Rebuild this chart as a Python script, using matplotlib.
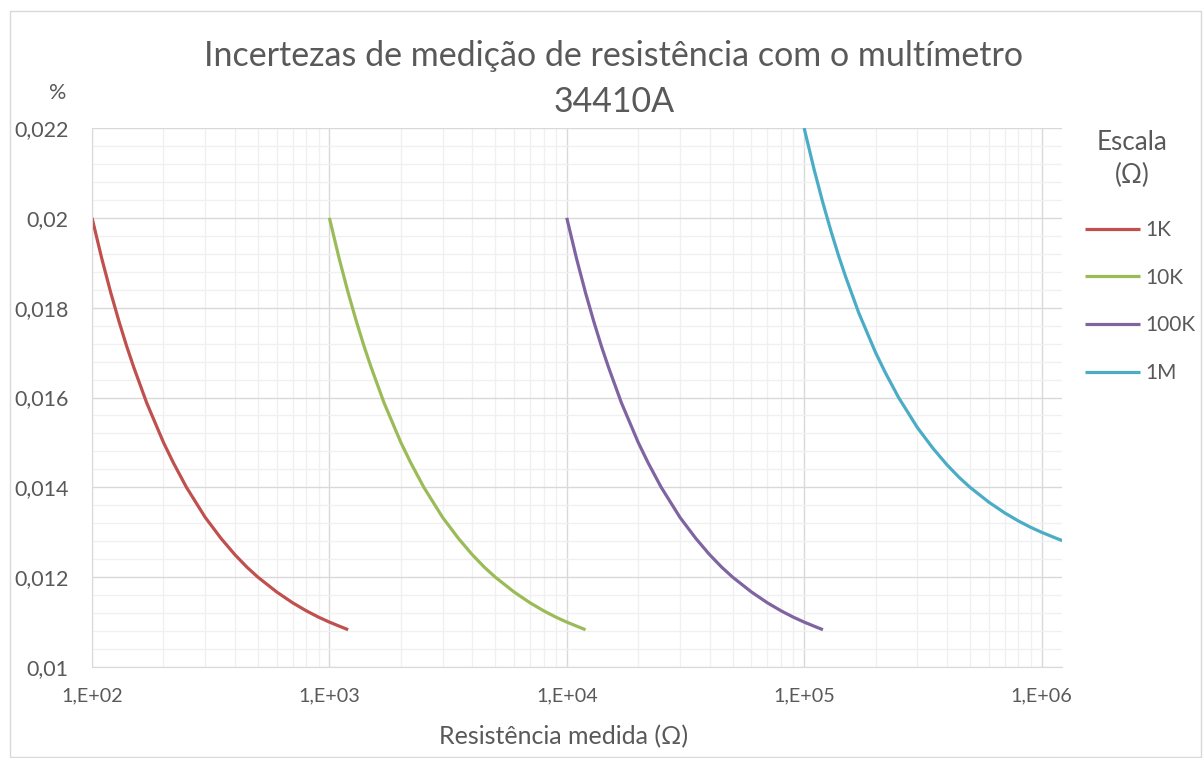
import math
import matplotlib
matplotlib.use("Agg")
import matplotlib.pyplot as plt
from matplotlib.ticker import FixedLocator, LogLocator, MultipleLocator, FuncFormatter, NullFormatter
from matplotlib.patches import Rectangle

plt.rcParams['font.family'] = ['Lato', 'DejaVu Sans']

title = "Incertezas de medição de resistência com o multímetro\n34410A"
series_names = ["1K", "10K", "100K", "1M"]
colors = ["#C0504D", "#9BBB59", "#8064A2", "#4BACC6"]

R_1K = [100, 110, 120, 130, 140, 150, 170, 200, 220, 250, 300, 350, 400, 450, 500, 600, 700, 800, 900, 1000, 1100, 1200]
U_1K = [0.02, 0.01909, 0.01833, 0.01769, 0.01714, 0.01667, 0.01588, 0.015, 0.01455, 0.014, 0.01333, 0.01286,
        0.0125, 0.01222, 0.012, 0.01167, 0.01143, 0.01125, 0.01111, 0.011, 0.01091, 0.01083]
R_10K = [1000, 1100, 1200, 1300, 1400, 1500, 1700, 2000, 2200, 2500, 3000, 3500, 4000, 4500, 5000, 6000, 7000, 8000, 9000, 10000, 11000, 12000]
U_10K = [0.02, 0.01909, 0.01833, 0.01769, 0.01714, 0.01667, 0.01588, 0.015, 0.01455, 0.014, 0.01333, 0.01286,
         0.0125, 0.01222, 0.012, 0.01167, 0.01143, 0.01125, 0.01111, 0.011, 0.01091, 0.01083]
R_100K = [10000, 11000, 12000, 13000, 14000, 15000, 17000, 20000, 22000, 25000, 30000, 35000, 40000, 45000, 50000,
          60000, 70000, 80000, 90000, 100000, 110000, 120000]
U_100K = [0.02, 0.01909, 0.01833, 0.01769, 0.01714, 0.01667, 0.01588, 0.015, 0.01455, 0.014, 0.01333, 0.01286,
          0.0125, 0.01222, 0.012, 0.01167, 0.01143, 0.01125, 0.01111, 0.011, 0.01091, 0.01083]
R_1M = [100000, 110000, 120000, 130000, 140000, 150000, 170000, 200000, 220000, 250000, 300000, 350000, 400000,
        450000, 500000, 600000, 700000, 800000, 900000, 1000000, 1100000, 1200000, 1300000]
U_1M = [0.022, 0.02109, 0.02033, 0.01969, 0.01914, 0.01867, 0.01788, 0.017, 0.01655, 0.016, 0.01533, 0.01486,
        0.0145, 0.01422, 0.014, 0.01367, 0.01343, 0.01325, 0.01311, 0.013, 0.01291, 0.01283, 0.01277]

xs = [R_1K, R_10K, R_100K, R_1M]
ys = [U_1K, U_10K, U_100K, U_1M]

text_color = "#595959"

W, H = 1203, 758
fig = plt.figure(figsize=(W / 100, H / 100), dpi=100)
fig.patches.append(Rectangle((10 / W, 1 / H), (1201 - 10) / W, (746) / H, transform=fig.transFigure,
                             fill=False, edgecolor="#D9D9D9", linewidth=1))

ax = fig.add_axes([92 / W, 1 - 667 / H, (1062 - 92) / W, (667 - 128) / H])
for x, y, c, n in zip(xs, ys, colors, series_names):
    ax.plot(x, y, color=c, linewidth=2.3, label=n, solid_capstyle='butt', clip_on=True)

ax.set_xscale('log')
ax.set_xlim(100, 1.22e6)
ax.set_ylim(0.01, 0.022)

ax.xaxis.set_major_locator(FixedLocator([1e2, 1e3, 1e4, 1e5, 1e6]))
ax.xaxis.set_minor_locator(LogLocator(base=10, subs=[2, 3, 4, 5, 6, 7, 8, 9], numticks=20))
ax.xaxis.set_minor_formatter(NullFormatter())
ax.xaxis.set_major_formatter(FuncFormatter(lambda v, p: "1,E+%02d" % round(math.log10(v))))

ax.yaxis.set_major_locator(MultipleLocator(0.002))
ax.yaxis.set_minor_locator(MultipleLocator(0.0004))

def yfmt(v, p):
    s = ("%.3f" % v).rstrip('0').rstrip('.')
    return s.replace('.', ',')
ax.yaxis.set_major_formatter(FuncFormatter(yfmt))

ax.grid(which='major', color="#D9D9D9", linewidth=1)
ax.grid(which='minor', color="#F0F0F0", linewidth=1)
ax.set_axisbelow(True)
ax.tick_params(which='both', length=0, colors=text_color)
ax.tick_params(axis='x', labelsize=14.2, pad=15)
ax.tick_params(axis='y', labelsize=15.5, pad=17)
for s in ['top', 'right']:
    ax.spines[s].set_visible(False)
for s in ['left', 'bottom']:
    ax.spines[s].set_color("#D9D9D9")

fig.text(614 / W, 1 - 79 / H, title, ha='center', va='center', fontsize=24.5, color=text_color, linespacing=1.5)
fig.text(58 / W, 1 - 93 / H, "%", ha='center', va='center', fontsize=15.5, color=text_color)
fig.text(564 / W, 1 - 737 / H, "Resistência medida (Ω)", ha='center', va='center', fontsize=18, color=text_color)

fig.text(1132 / W, 1 - 159 / H, "Escala\n(Ω)", ha='center', va='center', fontsize=18.7, color=text_color,
         linespacing=1.35)

leg = ax.legend(loc='upper left', bbox_to_anchor=(1085 / W, 1 - 220 / H), bbox_transform=fig.transFigure,
                frameon=False, fontsize=15, borderpad=0, borderaxespad=0,
                handlelength=2.64, handletextpad=0.25, labelspacing=1.33)
for t in leg.get_texts():
    t.set_color(text_color)

fig.savefig("out.png", dpi=100)
